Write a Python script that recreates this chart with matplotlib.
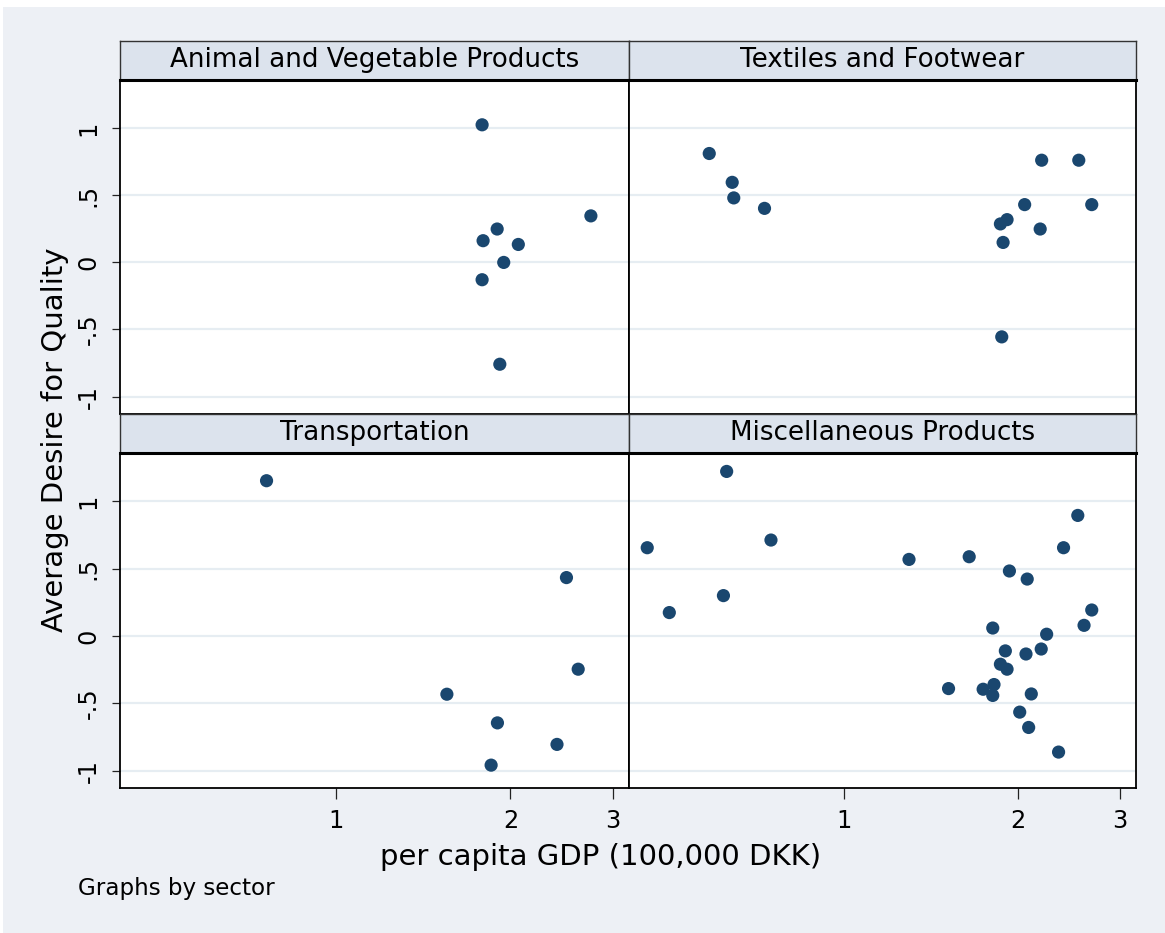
import matplotlib
matplotlib.use("Agg")
import matplotlib.pyplot as plt
from matplotlib.patches import Rectangle
from matplotlib.ticker import FixedLocator, NullLocator

plt.rcParams['font.family'] = ['DejaVu Sans']

# Data: per capita GDP (100,000 DKK) vs average desire for quality
sectors = ["Animal and Vegetable Products", "Textiles and Footwear",
           "Transportation", "Miscellaneous Products"]

gdp_animal = [1.787, 2.751, 1.897, 1.794, 2.063, 1.947, 1.787, 1.917]
quality_animal = [1.026, 0.347, 0.249, 0.162, 0.134, 0.0, -0.129, -0.759]

gdp_textiles = [0.585, 0.641, 0.645, 0.729, 2.198, 2.548, 2.683, 2.054, 1.915,
                1.865, 2.185, 1.885, 1.875]
quality_textiles = [0.812, 0.597, 0.481, 0.403, 0.762, 0.762, 0.431, 0.431, 0.319,
                    0.287, 0.249, 0.149, -0.555]

gdp_transport = [0.760, 2.497, 2.616, 1.554, 1.899, 2.405, 1.852]
quality_transport = [1.154, 0.434, -0.247, -0.433, -0.646, -0.806, -0.96]

gdp_misc = [0.627, 0.457, 0.748, 0.619, 0.499, 1.296, 1.647, 2.538, 2.398, 1.933,
            2.075, 2.683, 2.602, 1.809, 2.242, 2.194, 1.902, 2.065, 1.865, 1.915,
            1.517, 1.741, 1.818, 1.809, 2.109, 2.014, 2.087, 2.351]
quality_misc = [1.223, 0.656, 0.713, 0.300, 0.174, 0.569, 0.589, 0.896, 0.656, 0.483,
                0.423, 0.193, 0.079, 0.059, 0.013, -0.097, -0.111, -0.134, -0.210, -0.247,
                -0.391, -0.396, -0.361, -0.442, -0.431, -0.566, -0.680, -0.863]

x_ticks = [1, 2, 3]
y_ticks = [-1, -0.5, 0, 0.5, 1]
y_tick_labels = ["-1", "-.5", "0", ".5", "1"]

W, H = 1165, 933
bg = "#edf0f5"
header_bg = "#dce3ed"
grid_col = "#e6edf2"
dot_col = "#1a476f"

fig = plt.figure(figsize=(W / 100, H / 100), dpi=100, facecolor="white")
fig.patches.append(Rectangle((3 / W, 0), (W - 3) / W, (H - 7) / H,
                             transform=fig.transFigure, facecolor=bg,
                             edgecolor="none", zorder=-10))


def box(x0, y0, x1, y1):
    # pixel box (top-left origin) -> figure fraction
    return [x0 / W, 1 - y1 / H, (x1 - x0) / W, (y1 - y0) / H]


cols = [(120, 629), (629, 1136)]
rows = [(41, 80, 414), (414, 453, 788)]
data = [(gdp_animal, quality_animal), (gdp_textiles, quality_textiles),
        (gdp_transport, quality_transport), (gdp_misc, quality_misc)]

for i, name in enumerate(sectors):
    r, c = divmod(i, 2)
    x0, x1 = cols[c]
    h0, p0, p1 = rows[r]

    # header strip
    hax = fig.add_axes(box(x0, h0, x1, p0))
    hax.set_facecolor(header_bg)
    hax.set_xticks([])
    hax.set_yticks([])
    for s in hax.spines.values():
        s.set_linewidth(1.0)
        s.set_color("#333333")
    hax.text(0.5, 0.52, name, ha="center", va="center", fontsize=18.8,
             transform=hax.transAxes)

    ax = fig.add_axes(box(x0, p0, x1, p1))
    ax.set_facecolor("white")
    gx, gy = data[i]
    ax.scatter(gx, gy, s=90, color=dot_col, edgecolors="none", zorder=3)
    ax.set_xscale("log")
    ax.set_xlim(0.425, 3.2)
    ax.set_ylim(-1.13, 1.36)
    ax.yaxis.set_major_locator(FixedLocator(y_ticks))
    ax.grid(axis="y", color=grid_col, linewidth=1.6, zorder=0)
    ax.grid(axis="x", visible=False)
    for s in ax.spines.values():
        s.set_linewidth(1.3)
        s.set_color("black")
    ax.spines["top"].set_linewidth(2.2)

    if c == 0:
        ax.set_yticklabels(y_tick_labels, rotation=90, va="center", fontsize=17.3)
        ax.tick_params(axis="y", direction="out", length=6, width=0.9,
                       pad=8, colors="#222222", labelcolor="black")
    else:
        ax.tick_params(axis="y", length=0, labelleft=False)

    ax.xaxis.set_minor_locator(NullLocator())
    if r == 1:
        ax.xaxis.set_major_locator(FixedLocator(x_ticks))
        ax.set_xticklabels([str(t) for t in x_ticks], fontsize=17.3)
        ax.tick_params(axis="x", direction="out", length=8, width=0.9,
                       pad=7, colors="#222222", labelcolor="black")
    else:
        ax.xaxis.set_major_locator(NullLocator())

fig.text(55 / W, 1 - 440 / H, "Average Desire for Quality", rotation=90,
         ha="center", va="center", fontsize=21)
fig.text(601 / W, 1 - 857 / H, "per capita GDP (100,000 DKK)",
         ha="center", va="center", fontsize=21)
fig.text(78 / W, 1 - 889 / H, "Graphs by sector", ha="left", va="center",
         fontsize=16.6)

fig.savefig("out.png", dpi=100, facecolor=fig.get_facecolor())
